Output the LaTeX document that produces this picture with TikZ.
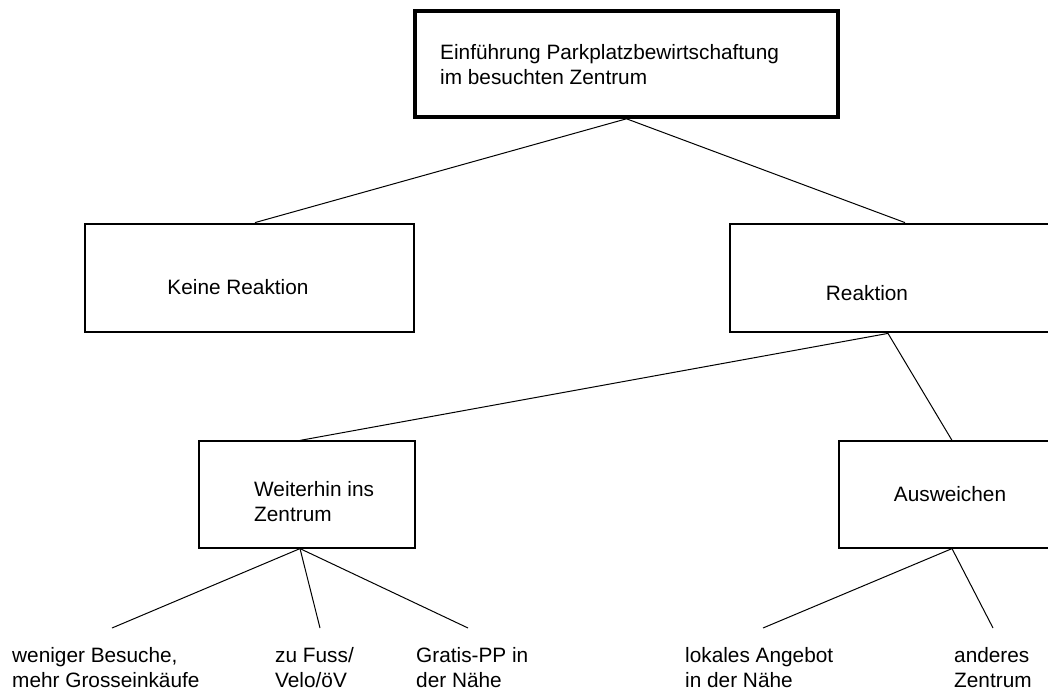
\documentclass[tikz,border=0pt]{standalone}
\usepackage{fontspec}
\setmainfont{Liberation Sans}

\begin{document}
\begin{tikzpicture}[x=1pt,y=-1pt,
    box/.style={draw,rectangle,inner sep=0pt},
    txt/.style={inner sep=0pt,align=left,font={\fontsize{20.8}{25}\selectfont}}]
        \useasboundingbox (0,0) rectangle (1048,692);
        \clip (0,0) rectangle (1048,692);
        \draw
        (626.5,64) node[box,line width=3.6pt,minimum width=423pt,minimum height=106pt] (top){}
        (249.5,278) node[box,line width=2.8pt,minimum width=329pt,minimum height=108pt] (keine){}
        (895,278) node[box,line width=2.8pt,minimum width=330pt,minimum height=108pt] (reakt){}
        (307,494.5) node[box,line width=1.2pt,minimum width=216pt,minimum height=107pt] (weiter){}
        (947,494.5) node[box,line width=1.2pt,minimum width=216pt,minimum height=107pt] (ausw){};
        \path
        (440,65) node[txt,anchor=west] (ttop){Einführung Parkplatzbewirtschaftung\\im besuchten Zentrum}
        (238,287) node[txt] (tkeine){Keine Reaktion}
        (867,293) node[txt] (treakt){Reaktion}
        (254,501.5) node[txt,anchor=west] (tweiter){Weiterhin ins\\Zentrum}
        (950,494) node[txt] (tausw){Ausweichen}
        (12,668) node[txt,anchor=west] (weniger){weniger Besuche,\\mehr Grosseinkäufe}
        (275,668) node[txt,anchor=west] (fuss){zu Fuss/\\Velo/öV}
        (416,668) node[txt,anchor=west] (gratis){Gratis-PP in\\der Nähe}
        (685,668) node[txt,anchor=west] (lokal){lokales Angebot\\in der Nähe}
        (954,668) node[txt,anchor=west] (anderes){anderes\\Zentrum};
        \coordinate (e1) at (112,628);
        \coordinate (e2) at (320,628);
        \coordinate (e3) at (468,628);
        \coordinate (e4) at (763,628);
        \coordinate (e5) at (993,628);
      \begin{scope}[-,line width=1pt]
        \draw (top.south) -- ([xshift=5.5pt]keine.north);
        \draw (top.south) -- ([xshift=10pt]reakt.north);
        \draw ([xshift=-7pt]reakt.south) -- ([xshift=-7pt]weiter.north);
        \draw ([xshift=-7pt]reakt.south) -- ([xshift=5pt]ausw.north);
        \draw ([xshift=-7pt]weiter.south) -- (e1);
        \draw ([xshift=-7pt]weiter.south) -- (e2);
        \draw ([xshift=-7pt]weiter.south) -- (e3);
        \draw ([xshift=5pt]ausw.south) -- (e4);
        \draw ([xshift=5pt]ausw.south) -- (e5);
      \end{scope}

    \end{tikzpicture}
\end{document}
